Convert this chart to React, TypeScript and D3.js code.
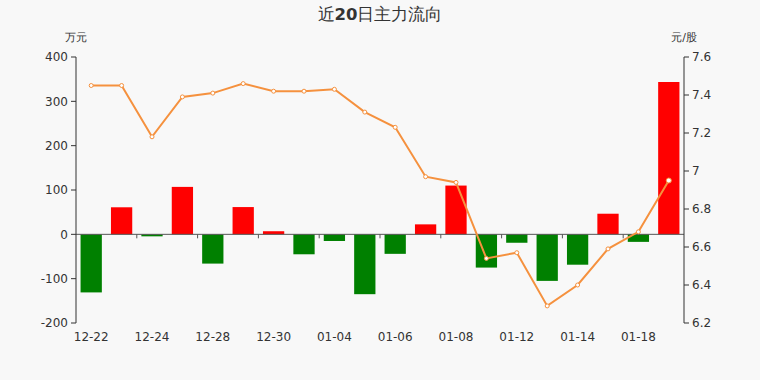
import React from "react";
import * as d3 from "d3";

const dates = [
  "12-22", "12-23", "12-24", "12-25", "12-28", "12-29", "12-30", "12-31", "01-04", "01-05",
  "01-06", "01-07", "01-08", "01-11", "01-12", "01-13", "01-14", "01-15", "01-18", "01-19",
];
// main capital net flow, 万元
const flows = [
  -131, 61, -4.5, 107, -66, 61.5, 7, -45, -15, -135,
  -44, 22.5, 110, -75, -19, -105, -68.5, 46.5, -17, 343.6,
];
// closing price, 元/股
const prices = [
  7.45, 7.45, 7.18, 7.39, 7.41, 7.46, 7.42, 7.42, 7.43, 7.31,
  7.23, 6.97, 6.94, 6.54, 6.57, 6.29, 6.40, 6.59, 6.68, 6.95,
];
const leftTicks = [-200, -100, 0, 100, 200, 300, 400];
const rightTicks = [6.2, 6.4, 6.6, 6.8, 7, 7.2, 7.4, 7.6];

const W = 760;
const H = 380;
const m = { left: 76, right: 684, top: 57, bottom: 323 };
const font = "'DejaVu Sans', sans-serif";

export default function App() {
  const x = d3.scaleBand<string>().domain(dates).range([m.left, m.right]).paddingInner(0).paddingOuter(0);
  const yL = d3.scaleLinear().domain([-200, 400]).range([m.bottom, m.top]);
  const yR = d3.scaleLinear().domain([6.2, 7.6]).range([m.bottom, m.top]);
  const bw = x.bandwidth();
  const barW = bw * 0.7;
  const cx = (d: string) => (x(d) as number) + bw / 2;
  const line = d3
    .line<number>()
    .x((_, i) => cx(dates[i]))
    .y((v) => yR(v));
  const zeroY = yL(0);

  return (
    <svg width={W} height={H} style={{ display: "block", position: "absolute", left: 0, top: 0 }} fontFamily={font}>
      <rect width={W} height={H} fill="#f8f8f8" />
      <text x={W / 2} y={20} textAnchor="middle" fontSize={16.5} fill="#333">
        近<tspan fontWeight="bold">20</tspan>日主力流向
      </text>
      <text x={m.left} y={41} textAnchor="middle" fontSize={11} fill="#333">万元</text>
      <text x={m.right} y={41} textAnchor="middle" fontSize={11} fill="#333">元/股</text>

      {/* bars */}
      {flows.map((v, i) => (
        <rect
          key={i}
          x={cx(dates[i]) - barW / 2}
          y={Math.min(yL(v), zeroY)}
          width={barW}
          height={Math.abs(yL(v) - zeroY)}
          fill={v >= 0 ? "#ff0000" : "#008000"}
        />
      ))}

      {/* category axis at zero */}
      <line x1={m.left} x2={m.right} y1={zeroY} y2={zeroY} stroke="#555" strokeWidth={1} />
      {dates.map((d, i) =>
        i % 2 === 0 && i > 0 ? (
          <line key={d} x1={x(d) as number} x2={x(d) as number} y1={zeroY} y2={zeroY + 4} stroke="#555" />
        ) : null
      )}
      {dates.map((d, i) =>
        i % 2 === 0 ? (
          <text key={d} x={cx(d)} y={341} textAnchor="middle" fontSize={12} fill="#333">{d}</text>
        ) : null
      )}

      {/* left axis */}
      <line x1={m.left} x2={m.left} y1={m.top} y2={m.bottom} stroke="#333" />
      {leftTicks.map((t) => (
        <g key={t}>
          <line x1={m.left - 5} x2={m.left} y1={yL(t)} y2={yL(t)} stroke="#333" />
          <text x={m.left - 8} y={yL(t)} dy="0.35em" textAnchor="end" fontSize={12} fill="#333">{t}</text>
        </g>
      ))}

      {/* right axis */}
      <line x1={m.right} x2={m.right} y1={m.top} y2={m.bottom} stroke="#333" />
      {rightTicks.map((t) => (
        <g key={t}>
          <line x1={m.right} x2={m.right + 5} y1={yR(t)} y2={yR(t)} stroke="#333" />
          <text x={m.right + 8} y={yR(t)} dy="0.35em" textAnchor="start" fontSize={12} fill="#333">{String(+t.toFixed(1))}</text>
        </g>
      ))}

      {/* price line */}
      <path d={line(prices) || ""} fill="none" stroke="#f5913e" strokeWidth={2} />
      {prices.map((v, i) => (
        <circle
          key={i}
          cx={cx(dates[i])}
          cy={yR(v)}
          r={i === prices.length - 1 ? 2.5 : 2}
          fill="#fff"
          stroke="#f5913e"
          strokeWidth={1}
        />
      ))}
    </svg>
  );
}
